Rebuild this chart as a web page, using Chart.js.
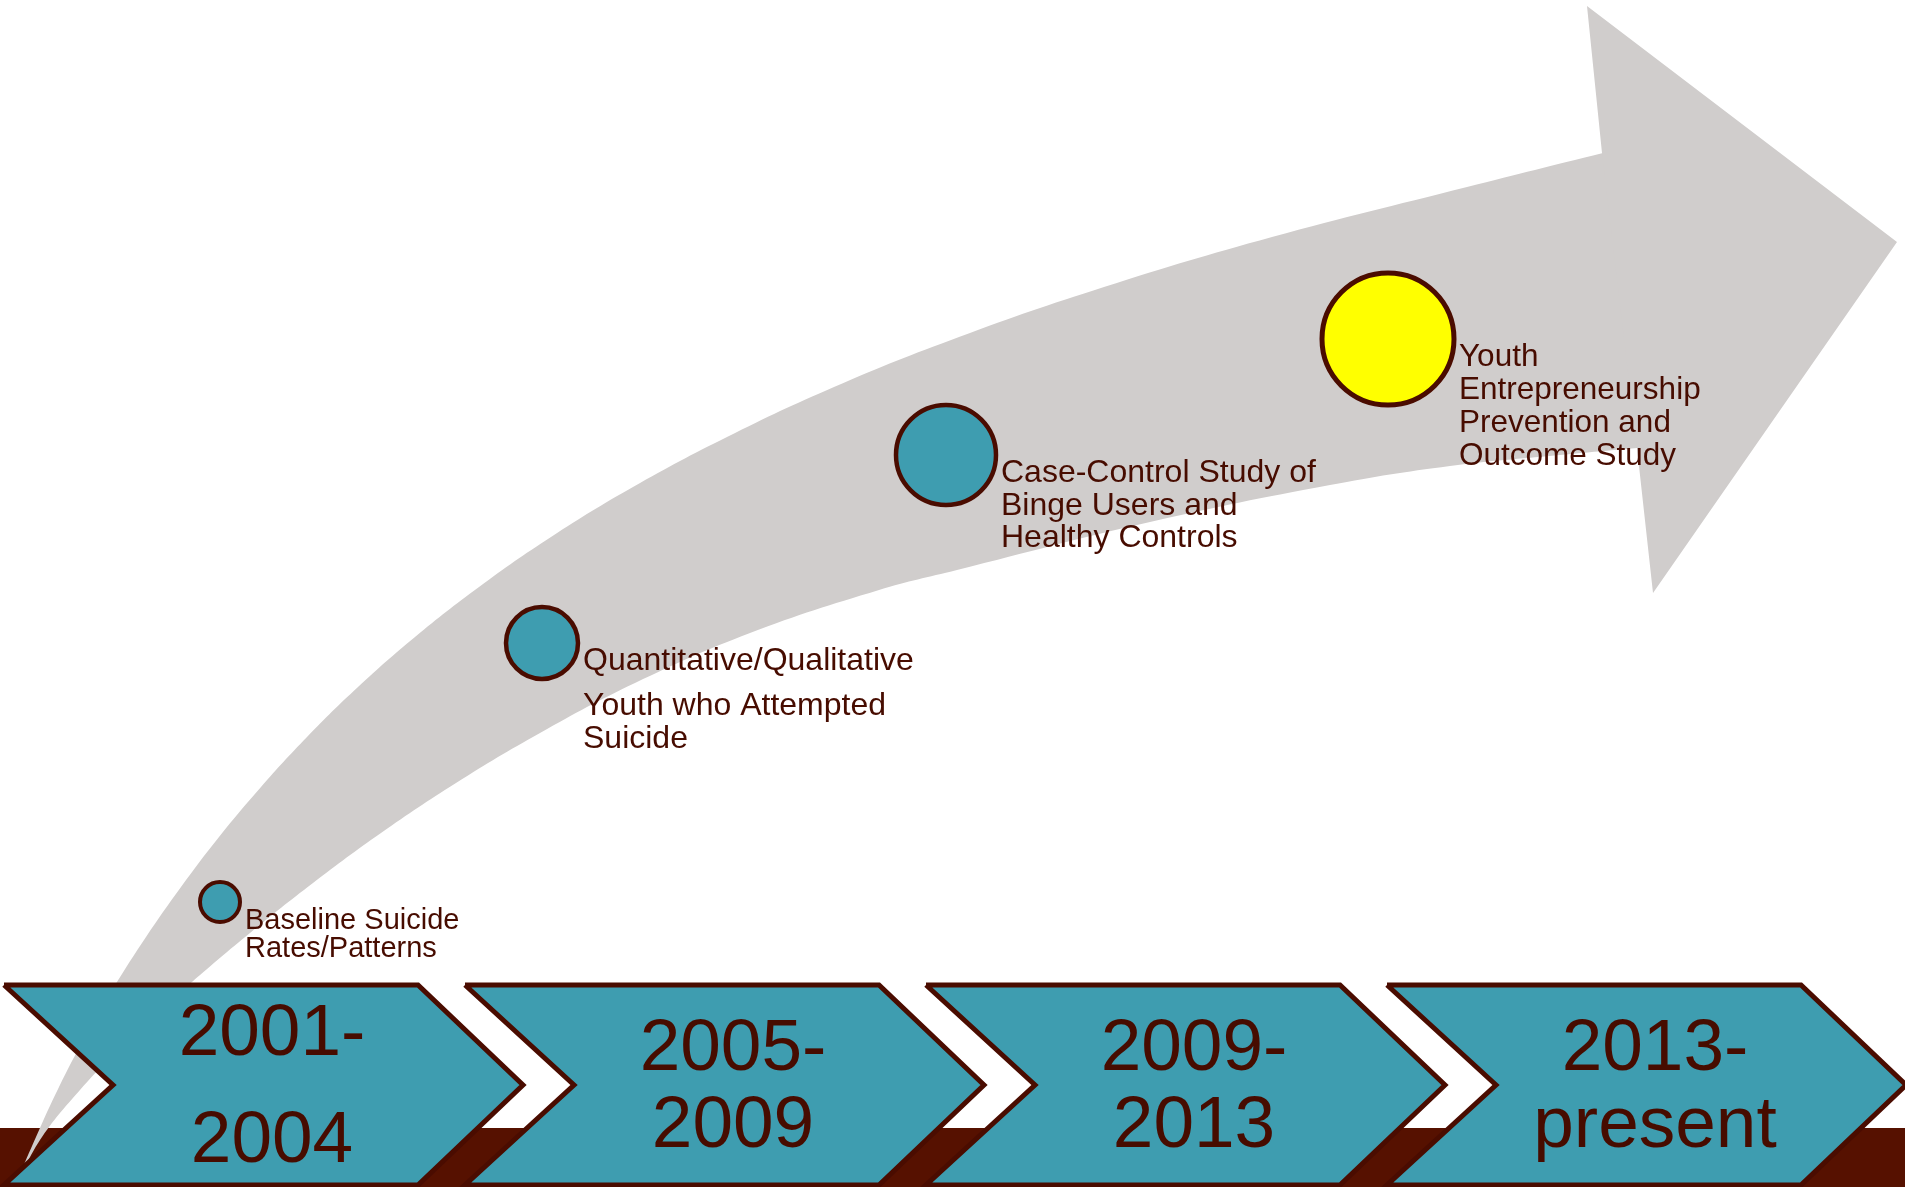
<!DOCTYPE html>
<html>
<head>
<meta charset="utf-8">
<title>Timeline</title>
<script src="https://cdn.jsdelivr.net/npm/chart.js@4.4.1/dist/chart.umd.min.js"></script>
<style>
    html, body { margin: 0; padding: 0; background: #ffffff; }
    #wrap { width: 1905px; height: 1187px; position: relative; }
</style>
</head>
<body>
<div id="wrap"><canvas id="GT1"></canvas></div>
<script>
//
// DATOS
//
var periodos = ["2001-|2004", "2005-|2009", "2009-|2013", "2013-|present"];

var estudios = [
    ["Baseline Suicide", "Rates/Patterns"],
    ["Quantitative/Qualitative", "Youth who Attempted", "Suicide"],
    ["Case-Control Study of", "Binge Users and", "Healthy Controls"],
    ["Youth", "Entrepreneurship", "Prevention and", "Outcome Study"]
];

// posicion de cada estudio sobre la flecha (x, y) y tamano del circulo
var estudioX = [220, 542, 946, 1388];
var estudioY = [902, 643, 455, 339];
var estudioTam = [20, 36, 50, 66];

// cuerpo de la flecha: borde exterior (muesca superior -> cola)
var bordeExtX = [1640, 1603, 1467, 1272, 1104, 959, 834, 727, 633, 551, 479, 415, 358, 307, 261, 219, 181, 146, 114, 85, 59, 36, 15];
var bordeExtY = [144, 153, 187, 237, 287, 337, 387, 437, 487, 537, 587, 637, 687, 737, 787, 837, 887, 937, 987, 1037, 1087, 1137, 1187];
// borde interior (cola -> muesca inferior)
var bordeIntX = [40, 80, 133, 192, 250, 313, 381, 456, 540, 635, 750, 879, 957, 1150, 1330, 1450, 1560, 1637, 1670];
var bordeIntY = [1140, 1090, 1035, 982, 933, 883, 833, 783, 733, 683, 633, 590, 570, 522, 485, 466, 455, 448, 445];
// punta de la flecha
var puntaX = [1602, 1587, 1897, 1653, 1637];
var puntaY = [153, 6, 242, 593, 448];

// inicio de cada chevron
var chevronX = [4, 465, 926, 1387];

var COLOR_TEXTO = "#470c00";
var COLOR_BORDE = "#4a0c00";
var COLOR_CHEVRON = "#3e9db0";
var COLOR_FLECHA = "#d0cdcc";

FNPuntos = function (xs, ys) {
    var r = [];
    for (var i = 0; i < xs.length; i++) r.push({ x: xs[i], y: ys[i] });
    return r;
}

FNChevron = function (x0) {
    return FNPuntos(
        [x0, x0 + 414, x0 + 519, x0 + 414, x0, x0 + 109, x0],
        [985, 985, 1085, 1185, 1185, 1085, 985]
    );
}

FNForma = function (puntos, color, orden, tension) {
    return {
        type: "line",
        order: orden,
        data: puntos,
        showLine: true,
        fill: "shape",
        tension: tension,
        pointRadius: 0,
        borderWidth: 0,
        borderColor: "rgba(0,0,0,0)",
        backgroundColor: color
    };
}

var datasets = [];

// circulos
datasets.push({
    type: "bubble",
    order: 1,
    data: estudioX.map(function (x, i) { return { x: x, y: estudioY[i], r: estudioTam[i] }; }),
    backgroundColor: ["#3e9db0", "#3e9db0", "#3e9db0", "#ffff00"],
    borderColor: COLOR_BORDE,
    borderWidth: [4, 4.5, 4.5, 5]
});

// chevrons
chevronX.forEach(function (x0) {
    datasets.push({
        type: "line",
        order: 3,
        data: FNChevron(x0),
        showLine: true,
        fill: "shape",
        tension: 0,
        pointRadius: 0,
        backgroundColor: COLOR_CHEVRON,
        borderColor: COLOR_BORDE,
        borderWidth: 5,
        borderJoinStyle: "miter"
    });
});

// flecha: punta y cuerpo curvo
datasets.push(FNForma(FNPuntos(puntaX, puntaY), COLOR_FLECHA, 4, 0));
datasets.push(FNForma(FNPuntos(bordeExtX.concat(bordeIntX), bordeExtY.concat(bordeIntY)), COLOR_FLECHA, 4, 0.4));

// franja inferior
datasets.push(FNForma(FNPuntos([0, 1905, 1905, 0, 0], [1128, 1128, 1187, 1187, 1128]), "#561100", 5, 0));

var textosPlugin = {
    id: "textos",
    afterDatasetsDraw: function (chart) {
        var ctx = chart.ctx;
        var sx = chart.scales.x, sy = chart.scales.y;
        ctx.save();
        ctx.fillStyle = COLOR_TEXTO;
        ctx.textBaseline = "alphabetic";

        // textos de los estudios
        var tamFuente = [29, 32, 32, 31.5];
        var interlinea = [28, 33, 32.5, 33];
        var salto = [0, 12, 0, 0];
        var meta = chart.getDatasetMeta(0);
        meta.data.forEach(function (el, i) {
            var x = el.x + estudioTam[i] + 5;
            var y = el.y + 27;
            ctx.textAlign = "left";
            ctx.font = tamFuente[i] + "px 'Liberation Sans', Arial, sans-serif";
            estudios[i].forEach(function (linea, j) {
                ctx.fillText(linea, x, y + j * interlinea[i] + (j > 0 ? salto[i] : 0));
            });
        });

        // anos en los chevrons
        ctx.font = "73px 'Liberation Sans', Arial, sans-serif";
        ctx.textAlign = "center";
        var lineaA = [1055, 1070, 1070, 1070];
        var lineaB = [1162, 1147, 1147, 1147];
        periodos.forEach(function (p, i) {
            var partes = p.split("|");
            var cx = sx.getPixelForValue(chevronX[i] + 268);
            ctx.fillText(partes[0], cx, sy.getPixelForValue(lineaA[i]));
            ctx.fillText(partes[1], cx, sy.getPixelForValue(lineaB[i]));
        });
        ctx.restore();
    }
};

new Chart(document.getElementById("GT1"), {
    type: "scatter",
    data: { datasets: datasets },
    options: {
        responsive: true,
        maintainAspectRatio: false,
        animation: false,
        events: [],
        layout: { padding: 0, autoPadding: false },
        plugins: {
            legend: { display: false },
            tooltip: { enabled: false }
        },
        scales: {
            x: { type: "linear", min: 0, max: 1905, display: false },
            y: { type: "linear", min: 0, max: 1187, reverse: true, display: false }
        }
    },
    plugins: [textosPlugin]
});
</script>
</body>
</html>
